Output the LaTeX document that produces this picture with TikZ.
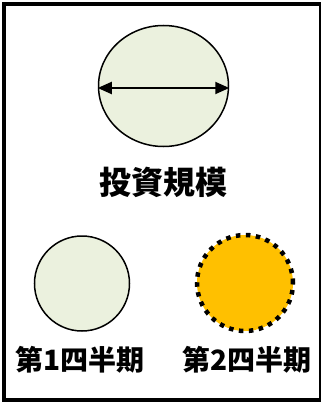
\documentclass[tikz,border=0pt]{standalone}
\usepackage{fontspec}
\newfontfamily\jp{Noto Sans CJK JP}
\usetikzlibrary{shapes.geometric,arrows.meta}
\definecolor{palegreen}{HTML}{EBF1DE}
\definecolor{amber}{HTML}{FFC000}
\tikzset{
  lbl/.style={font=\jp\bfseries\fontsize{28}{30}\selectfont, inner sep=0pt, text=black},
  bubble/.style={circle, draw=black, line width=1.5pt, fill=palegreen, inner sep=0pt},
}
\begin{document}
\begin{tikzpicture}[x=1pt,y=-1pt]
\useasboundingbox (0,0) rectangle (321,404);
\begin{scope}
\clip (0,0) rectangle (321,404);
\draw[line width=3.5pt] (4.2,4.2) rectangle (320.8,399.8);
\end{scope}
\node[ellipse, draw=black, line width=1.5pt, fill=palegreen, minimum width=130pt, minimum height=121pt, inner sep=0pt] (big) at (163.5,86) {};
\draw[line width=2pt, {Triangle[length=14pt,width=12pt]}-{Triangle[length=14pt,width=12pt]}] ([yshift=-2pt]big.west) -- ([yshift=-2pt]big.east);
\node[lbl, font=\jp\bfseries\fontsize{32}{34}\selectfont] (title) at (163.5,182) {投資規模};
\node[bubble, minimum size=95pt] (q1) at (82,283.5) {};
\node[circle, fill=amber, draw=black, line width=4.5pt, dash pattern=on 4.5pt off 5.5pt, minimum size=96pt, inner sep=0pt] (q2) at (245,283) {};
\node[lbl] (l1) at (80,360) {第1四半期};
\node[lbl] (l2) at (247,360) {第2四半期};
\end{tikzpicture}
\end{document}
